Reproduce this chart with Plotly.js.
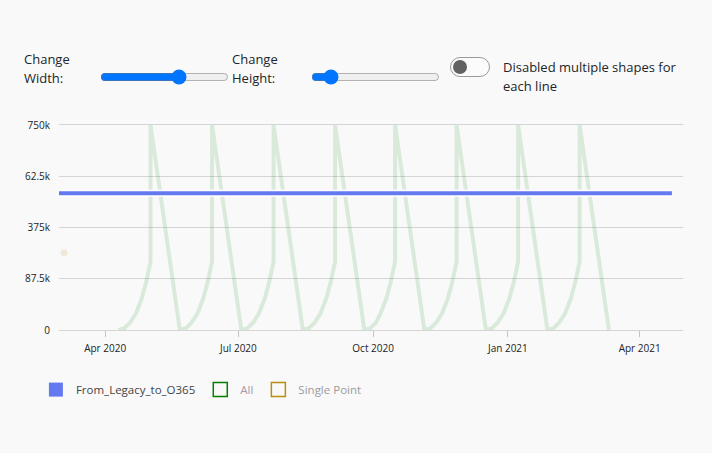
<!DOCTYPE html>
<html>
<head>
<meta charset="utf-8">
<script src="https://cdn.plot.ly/plotly-3.0.1.min.js"></script>
<style>
  html, body { margin: 0; padding: 0; background: #f9f9f9; width: 712px; height: 453px; overflow: hidden; }
  body { font-family: "Open Sans", "Noto Sans", sans-serif; color: #212529; position: relative; }
  #chart { position: absolute; left: 0; top: 0; width: 712px; height: 453px; }
  .ctl { position: absolute; z-index: 2; font-size: 13px; line-height: 19px; }
  input[type=range] { position: absolute; z-index: 2; margin: 0; width: 129px; height: 16px; }
  .switch { position: absolute; z-index: 2; left: 450px; top: 57px; width: 40px; height: 20px; box-sizing: border-box;
            border: 1.5px solid #9a9a9a; border-radius: 10px; background: #fbfbfb; }
  .knob { position: absolute; left: 1.5px; top: 1.5px; width: 14px; height: 14px; border-radius: 50%; background: #626262; }
</style>
</head>
<body>
<div id="chart"></div>
<div class="ctl" style="left:24px; top:50px;">Change<br>Width:</div>
<input type="range" min="0" max="100" value="63" style="left:100px; top:69px;">
<div class="ctl" style="left:232px; top:50px;">Change<br>Height:</div>
<input type="range" min="0" max="100" value="11" style="left:311px; top:69px;">
<div class="switch"><div class="knob"></div></div>
<div class="ctl" style="left:503px; top:58px;">Disabled multiple shapes for<br>each line</div>
<script>
// ---- data ----
const seriesNames = ["From_Legacy_to_O365", "All", "Single Point"];

const legacyDates = ["2020-02-29", "2021-04-23"];
const legacyValues = [500000, 500000];

const allDates = [
  "2020-04-10","2020-04-14","2020-04-18","2020-04-22","2020-04-26","2020-04-29","2020-05-02","2020-05-02",
  "2020-05-22","2020-05-26","2020-05-30","2020-06-03","2020-06-07","2020-06-10","2020-06-13","2020-06-13",
  "2020-07-03","2020-07-07","2020-07-11","2020-07-15","2020-07-19","2020-07-22","2020-07-25","2020-07-25",
  "2020-08-14","2020-08-18","2020-08-22","2020-08-26","2020-08-30","2020-09-02","2020-09-05","2020-09-05",
  "2020-09-25","2020-09-29","2020-10-03","2020-10-06","2020-10-10","2020-10-13","2020-10-16","2020-10-16",
  "2020-11-05","2020-11-09","2020-11-13","2020-11-17","2020-11-21","2020-11-24","2020-11-27","2020-11-27",
  "2020-12-17","2020-12-21","2020-12-25","2020-12-29","2021-01-02","2021-01-05","2021-01-08","2021-01-08",
  "2021-01-28","2021-02-01","2021-02-05","2021-02-09","2021-02-13","2021-02-16","2021-02-19","2021-02-19",
  "2021-03-11"
];
const allValues = [
  0, 6000, 27000, 60000, 115000, 175000, 250000, 750000,
  0, 6000, 27000, 60000, 115000, 175000, 250000, 750000,
  0, 6000, 27000, 60000, 115000, 175000, 250000, 750000,
  0, 6000, 27000, 60000, 115000, 175000, 250000, 750000,
  0, 6000, 27000, 60000, 115000, 175000, 250000, 750000,
  0, 6000, 27000, 60000, 115000, 175000, 250000, 750000,
  0, 6000, 27000, 60000, 115000, 175000, 250000, 750000,
  0, 6000, 27000, 60000, 115000, 175000, 250000, 750000,
  0
];

const singleDates = ["2020-03-04"];
const singleValues = [282000];

const yTickVals = [0, 187500, 375000, 562500, 750000];
const yTickText = ["0", "87.5k", "375k", "62.5k", "750k"];
const xRange = ["2020-02-29 12:00", "2021-04-30 14:00"];

// ---- colors ----
const cBlue = "#6479f0", cGreen = "green", cGold = "#b8900b";

const traces = [
  { x: allDates, y: allValues, type: "scatter", mode: "lines", opacity: 0.12,
    line: { color: cGreen, width: 4 }, showlegend: false, name: seriesNames[1] },
  { x: singleDates, y: singleValues, type: "scatter", mode: "markers", opacity: 0.14,
    marker: { color: cGold, size: 7 }, showlegend: false, name: seriesNames[2] },
  { x: legacyDates, y: legacyValues, type: "scatter", mode: "lines",
    line: { color: "#ffffff", width: 7 }, showlegend: false, hoverinfo: "skip" },
  { x: legacyDates, y: legacyValues, type: "scatter", mode: "lines",
    line: { color: cBlue, width: 4 }, showlegend: false, name: seriesNames[0] },
  // legend swatches
  { x: [null], y: [null], type: "scatter", mode: "markers", name: seriesNames[0],
    marker: { symbol: "square", size: 14, color: cBlue } },
  { x: [null], y: [null], type: "scatter", mode: "markers", name: '<span style="color:#a39aa8">' + seriesNames[1] + '</span>',
    marker: { symbol: "square-open", size: 14, color: cGreen, line: { width: 1.5 } } },
  { x: [null], y: [null], type: "scatter", mode: "markers", name: '<span style="color:#9b9b9b">' + seriesNames[2] + '</span>',
    marker: { symbol: "square-open", size: 14, color: cGold, line: { width: 1.5 } } }
];

const layout = {
  width: 712, height: 453,
  margin: { l: 59, r: 29, t: 125, b: 123 },
  paper_bgcolor: "rgba(0,0,0,0)", plot_bgcolor: "rgba(0,0,0,0)",
  font: { family: '"Open Sans", "Noto Sans", sans-serif', size: 10, color: "#222" },
  xaxis: {
    type: "date", range: xRange, showgrid: false, zeroline: false,
    showline: true, linecolor: "#d5d5d5", linewidth: 1, mirror: true,
    ticks: "outside", ticklen: 6, tickcolor: "#c4c4c4", tickwidth: 1,
    dtick: "M3", tick0: "2020-01-01", tickformat: "%b %Y",
    ticklabelstandoff: 3, tickfont: { size: 10, color: "#222" }
  },
  yaxis: {
    range: [0, 750000], tickvals: yTickVals, ticktext: yTickText,
    showgrid: true, gridcolor: "#d5d5d5", gridwidth: 1, zeroline: false, showline: false,
    ticks: "", ticklabelstandoff: 8, tickfont: { size: 10, color: "#222" }
  },
  showlegend: true,
  legend: {
    orientation: "h", x: -0.037, xanchor: "left", y: -0.22, yanchor: "top",
    font: { size: 11.5, color: "#444" }, bgcolor: "rgba(0,0,0,0)", itemclick: false
  }
};

Plotly.newPlot("chart", traces, layout, { displayModeBar: false, staticPlot: true });
</script>
</body>
</html>
